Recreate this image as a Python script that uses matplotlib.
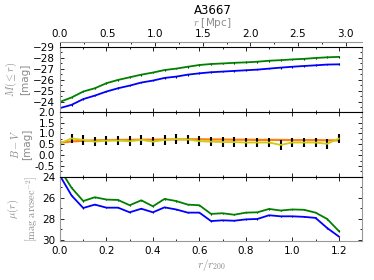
import numpy as np
import matplotlib
matplotlib.use("Agg")
import matplotlib.pyplot as plt
from matplotlib.ticker import MultipleLocator

plt.rcParams['mathtext.fontset'] = 'cm'
plt.rcParams['font.size'] = 7.5

r = np.arange(25) * 0.05
r200 = 2.44  # Mpc

# cumulative magnitude M(<=r)
M_green = [-24.0, -24.4, -24.94, -25.24, -25.7, -26.0, -26.24, -26.48, -26.67, -26.9,
           -27.03, -27.2, -27.36, -27.45, -27.5, -27.56, -27.6, -27.66, -27.75, -27.8,
           -27.87, -27.92, -28.0, -28.06, -28.1]
M_blue = [-23.43, -23.73, -24.25, -24.57, -24.94, -25.24, -25.48, -25.76, -25.94, -26.18,
          -26.3, -26.48, -26.6, -26.7, -26.76, -26.82, -26.88, -26.94, -27.03, -27.12,
          -27.2, -27.27, -27.33, -27.4, -27.42]

# colour B-V
bv_orange = [0.57, 0.63, 0.66, 0.68, 0.69, 0.70, 0.70, 0.71, 0.71, 0.72, 0.72, 0.73, 0.73,
             0.72, 0.72, 0.71, 0.71, 0.70, 0.70, 0.70, 0.69, 0.69, 0.69, 0.68, 0.68]
bv_yellow = [0.54, 0.77, 0.70, 0.62, 0.67, 0.67, 0.64, 0.70, 0.62, 0.70, 0.74, 0.72, 0.64,
             0.62, 0.60, 0.60, 0.58, 0.58, 0.58, 0.47, 0.58, 0.58, 0.58, 0.52, 0.76]
bv_err = [0.22] * 25

# surface brightness mu(r)
mu_green = [23.3, 25.05, 26.3, 25.94, 26.16, 26.2, 26.7, 26.23, 26.8, 26.1, 26.3, 26.64, 26.7,
            27.52, 27.46, 27.6, 27.4, 27.37, 27.05, 27.2, 27.1, 27.13, 27.4, 28.0, 29.14]
mu_blue = [23.9, 25.78, 26.96, 26.64, 26.93, 26.93, 27.37, 27.03, 27.37, 26.9, 27.1, 27.4, 27.4,
           28.2, 28.13, 28.17, 28.04, 28.0, 27.65, 27.75, 27.75, 27.8, 27.9, 28.86, 29.66]

mpc_ticks = [0.0, 0.5, 1.0, 1.5, 2.0, 2.5, 3.0]

fig = plt.figure(figsize=(3.74, 2.80), dpi=100)
L, W = 0.1604, 0.8075
ax1 = fig.add_axes([L, 0.601, W, 0.2311])
ax2 = fig.add_axes([L, 0.3686, W, 0.2324])
ax3 = fig.add_axes([L, 0.139, W, 0.2296])

gray = '#999999'
lab = '#8a8a8a'
for ax in (ax1, ax2, ax3):
    for s in ('left', 'right', 'bottom'):
        ax.spines[s].set_color(gray)
    ax.spines['top'].set_color('black')
    ax.set_xlim(0, 1.3)
    ax.xaxis.set_major_locator(MultipleLocator(0.2))
    ax.xaxis.set_minor_locator(MultipleLocator(0.1))
    ax.tick_params(which='both', direction='in', top=True, right=True, length=3, width=0.6)
    ax.tick_params(which='minor', length=1.5)

kw = dict(capsize=0, ecolor='k', elinewidth=0.8, lw=1.3)
ax1.errorbar(r, M_green, yerr=0.08, color='green', **kw)
ax1.errorbar(r, M_blue, yerr=0.08, color='blue', **kw)
ax1.set_ylim(-23.1, -29)
ax1.yaxis.set_major_locator(MultipleLocator(1))
ax1.yaxis.set_minor_locator(MultipleLocator(0.5))
ax1.set_xticklabels([])
ax1.set_ylabel(r'$M(\leq r)$' + '\n[mag]', color=lab, fontsize=7.5, labelpad=2)

ax2.plot(r, bv_orange, color='#ff7f0e', lw=1.6)
ax2.errorbar(r, bv_yellow, yerr=bv_err, color='#cccc10', capsize=0, ecolor='k',
             elinewidth=1.5, lw=1.3)
ax2.set_ylim(-1, 2)
ax2.yaxis.set_minor_locator(MultipleLocator(0.25))
ax2.set_yticks([-0.5, 0.0, 0.5, 1.0, 1.5, 2.0])
ax2.set_yticklabels(['-0.5', '0.0', '0.5', '1.0', '1.5', '2.0'])
ax2.set_xticklabels([])
ax2.set_ylabel(r'$B-V$' + '\n[mag]', color=lab, fontsize=7.5, labelpad=2)

ax3.errorbar(r, mu_green, yerr=0.06, color='green', **kw)
ax3.errorbar(r, mu_blue, yerr=0.06, color='blue', **kw)
ax3.set_ylim(30.1, 24)
ax3.set_yticks([24, 26, 28, 30])
ax3.yaxis.set_minor_locator(MultipleLocator(1))
ax3.set_ylabel(r'$\mu(r)$' + '\n' + r'$\left[\mathrm{mag\ arcsec}^{-2}\right]$',
               color=lab, fontsize=7.5, labelpad=2)
ax3.set_xlabel(r'$r/r_{200}$', color=lab, fontsize=8, labelpad=1)

sec = ax1.secondary_xaxis(1.077, functions=(lambda x: x * r200, lambda x: x / r200))
sec.spines['top'].set_color(gray)
sec.set_xticks(mpc_ticks)
sec.set_xticklabels([f'{t:.1f}' for t in mpc_ticks])
sec.xaxis.set_minor_locator(MultipleLocator(0.25))
sec.tick_params(which='both', direction='in', length=3, width=0.6, pad=2)
sec.tick_params(which='minor', length=1.5)

fig.text(0.568, 1 - 23 / 280, r'$r$ [Mpc]', color=lab, fontsize=7.5, ha='center', va='center')
fig.text(0.568, 1 - 10 / 280, 'A3667', fontsize=8.5, ha='center', va='center')

fig.savefig('out.png', dpi=100)
